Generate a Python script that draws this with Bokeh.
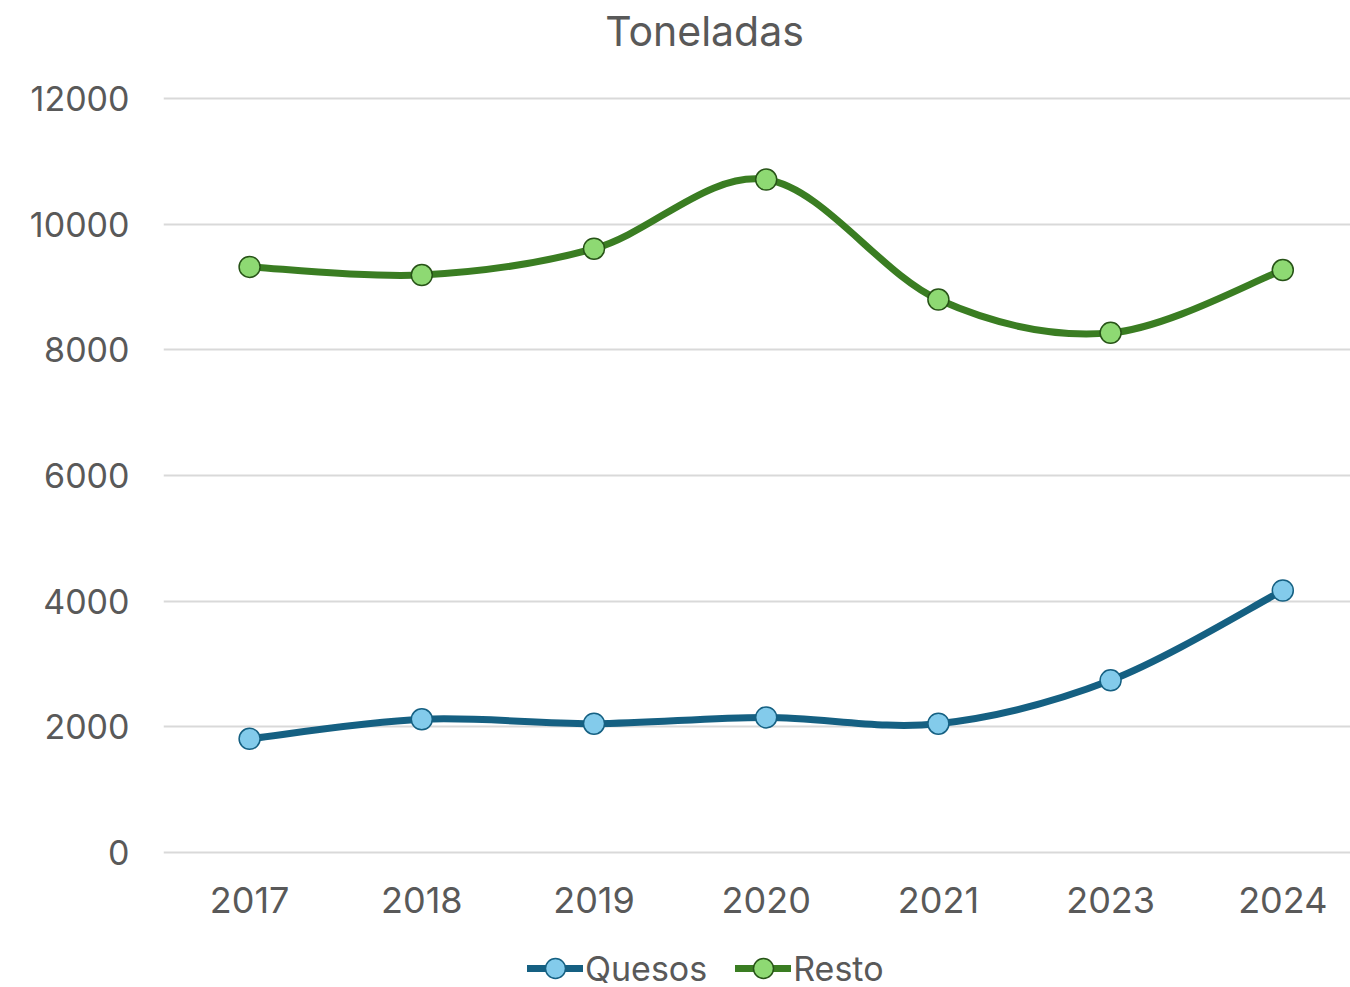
from bokeh.plotting import figure
from bokeh.models import (Range1d, FixedTicker, Legend, LegendItem, ColumnDataSource, Label)
from bokeh.core.properties import value
from bokeh.embed import file_html
from bokeh.resources import INLINE

years = ["2017", "2018", "2019", "2020", "2021", "2023", "2024"]
quesos = [1810, 2120, 2050, 2150, 2050, 2740, 4170]
resto = [9320, 9190, 9610, 10710, 8800, 8270, 9270]
y_ticks = [0, 2000, 4000, 6000, 8000, 10000, 12000]
title_text = "Toneladas"

FONT = "Inter"
TXT = "#595959"

idx = list(range(len(years)))


def bezier_segments(xs, ys):
    n = len(xs)
    out = dict(x0=[], y0=[], x1=[], y1=[], cx0=[], cy0=[], cx1=[], cy1=[])
    for i in range(n - 1):
        p0 = (xs[max(i - 1, 0)], ys[max(i - 1, 0)])
        p1 = (xs[i], ys[i])
        p2 = (xs[i + 1], ys[i + 1])
        p3 = (xs[min(i + 2, n - 1)], ys[min(i + 2, n - 1)])
        out["x0"].append(p1[0]); out["y0"].append(p1[1])
        out["x1"].append(p2[0]); out["y1"].append(p2[1])
        out["cx0"].append(p1[0] + (p2[0] - p0[0]) / 6)
        out["cy0"].append(p1[1] + (p2[1] - p0[1]) / 6)
        out["cx1"].append(p2[0] - (p3[0] - p1[0]) / 6)
        out["cy1"].append(p2[1] - (p3[1] - p1[1]) / 6)
    return out


# layout: plot frame covers the full height; value axis spans 754 px (y=98..852)
FRAME_H = 987
ZERO_Y = 852
UNIT = 12000 / 754          # data units per pixel
p = figure(output_backend="svg", toolbar_location=None, x_axis_type=None,
           frame_width=1187, frame_height=FRAME_H,
           min_border_left=163, min_border_right=0, min_border_top=0, min_border_bottom=0,
           x_range=Range1d(-0.5, -0.5 + 1187 / 172.2),
           y_range=Range1d(-(FRAME_H - ZERO_Y) * UNIT, ZERO_Y * UNIT))

p.outline_line_color = None
p.background_fill_color = "white"
p.border_fill_color = "white"

# title
p.add_layout(Label(x=(704 - 163) / 172.2 - 0.5, y=(ZERO_Y - 30) * UNIT, text=title_text,
                   text_align="center", text_baseline="middle",
                   text_font=FONT, text_font_size="41px", text_color=TXT))

# value axis + grid
p.ygrid.grid_line_color = "#D9D9D9"
p.ygrid.grid_line_width = 2
p.yaxis.ticker = FixedTicker(ticks=y_ticks)
ax = p.yaxis[0]
ax.axis_line_color = None
ax.major_tick_line_color = None
ax.minor_tick_line_color = None
ax.major_tick_out = 0
ax.major_tick_in = 0
ax.major_label_text_font = FONT
ax.major_label_text_color = TXT
ax.major_label_text_font_size = "34px"
ax.major_label_standoff = 34

# category labels under the zero line
p.text(x=idx, y=[0] * len(idx), text=years, y_offset=47,
       text_align="center", text_baseline="middle",
       text_font=value(FONT), text_font_size="36px", text_color=TXT)

series = [
    ("Quesos", quesos, "#156082", "#83CBEB", "#156082"),
    ("Resto", resto, "#3A7D22", "#8ED973", "#275317"),
]

items = []
for name, vals, lc, fc, oc in series:
    seg = bezier_segments(idx, vals)
    curve = p.bezier(x0="x0", y0="y0", x1="x1", y1="y1", cx0="cx0", cy0="cy0",
                     cx1="cx1", cy1="cy1", source=ColumnDataSource(seg),
                     line_color=lc, line_width=7, line_cap="round")
    sc = p.scatter(x=idx, y=vals, size=21, fill_color=fc, line_color=oc, line_width=1.5)
    items.append(LegendItem(label=name, renderers=[curve, sc]))

legend = Legend(items=items, orientation="horizontal", location=(364, -6),
                label_text_font=FONT, label_text_font_size="34px", label_text_color=TXT,
                glyph_width=56, glyph_height=50, label_standoff=2, spacing=28,
                padding=0, margin=0, border_line_color=None, background_fill_alpha=0)
p.add_layout(legend, "center")

open("out.html", "w").write(file_html(p, INLINE))
